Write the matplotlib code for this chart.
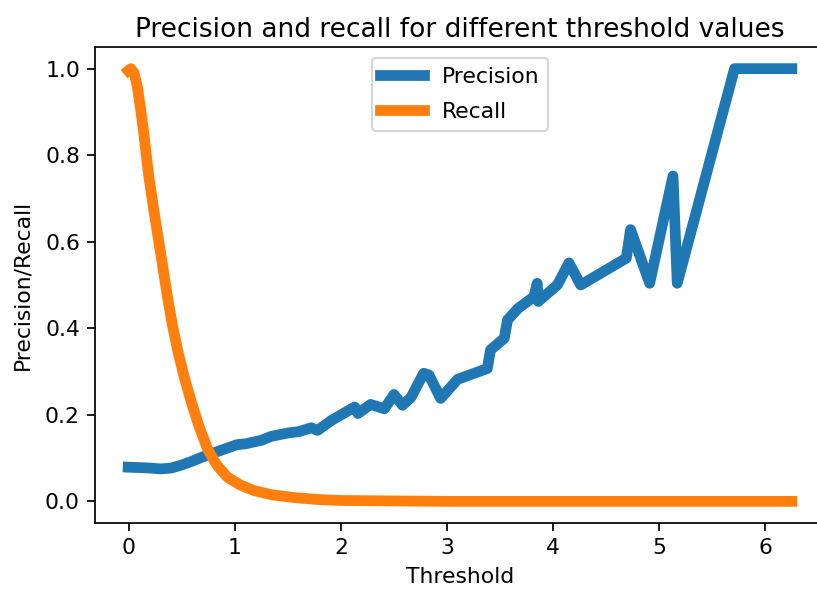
import matplotlib
matplotlib.use("Agg")
import matplotlib.pyplot as plt

# Recall curve
recall_thr = [-0.005, 0.02, 0.05, 0.08, 0.11, 0.14, 0.163, 0.19, 0.226, 0.264, 0.30, 0.335,
              0.367, 0.41, 0.46, 0.52, 0.587, 0.66, 0.745, 0.83, 0.93, 1.05, 1.18, 1.35,
              1.59, 1.8, 2.0, 2.5, 3.0, 6.25]
recall_val = [0.995, 1.0, 0.99, 0.96, 0.91, 0.855, 0.805, 0.75, 0.69, 0.63, 0.575, 0.52,
              0.47, 0.41, 0.35, 0.29, 0.232, 0.175, 0.12, 0.084, 0.056, 0.038, 0.025, 0.015,
              0.008, 0.004, 0.002, 0.001, 0.0, 0.0]

# Precision curve
precision_thr = [-0.005, 0.1, 0.2, 0.3, 0.4, 0.5, 0.6, 0.7, 0.87, 1.02, 1.1, 1.25, 1.34,
                 1.5, 1.6, 1.72, 1.78, 1.91, 2.03, 2.13, 2.16, 2.28, 2.41, 2.50, 2.58,
                 2.66, 2.78, 2.83, 2.94, 3.1, 3.38, 3.41, 3.54, 3.57, 3.67, 3.82, 3.85, 3.86,
                 4.04, 4.15, 4.26, 4.69, 4.73, 4.91, 5.13, 5.17, 5.71, 6.25]
precision_val = [0.079, 0.078, 0.077, 0.075, 0.077, 0.084, 0.093, 0.103, 0.118, 0.131, 0.133,
                 0.141, 0.150, 0.158, 0.161, 0.170, 0.164, 0.187, 0.204, 0.218, 0.203, 0.224,
                 0.214, 0.247, 0.222, 0.240, 0.296, 0.292, 0.238, 0.282, 0.307, 0.35, 0.377,
                 0.419, 0.446, 0.473, 0.504, 0.462, 0.50, 0.551, 0.50, 0.562, 0.628, 0.504,
                 0.752, 0.504, 1.0, 1.0]

plt.rcParams["font.size"] = 10.2

DPI = 154.8
fig = plt.figure(figsize=(817 / DPI, 589 / DPI), dpi=DPI)
ax = fig.add_axes([95 / 817, 66 / 589, 730 / 817, 476 / 589])

ax.plot(precision_thr, precision_val, linewidth=5, label="Precision")
ax.plot(recall_thr, recall_val, linewidth=5, label="Recall")
ax.set_xlabel("Threshold")
ax.set_ylabel("Precision/Recall", labelpad=6)
ax.set_title("Precision and recall for different threshold values", fontsize=12.25, pad=4.5)
ax.legend(loc="upper center", labelspacing=0.7)
ax.spines["right"].set_visible(False)

fig.savefig("out.png", dpi=DPI)
